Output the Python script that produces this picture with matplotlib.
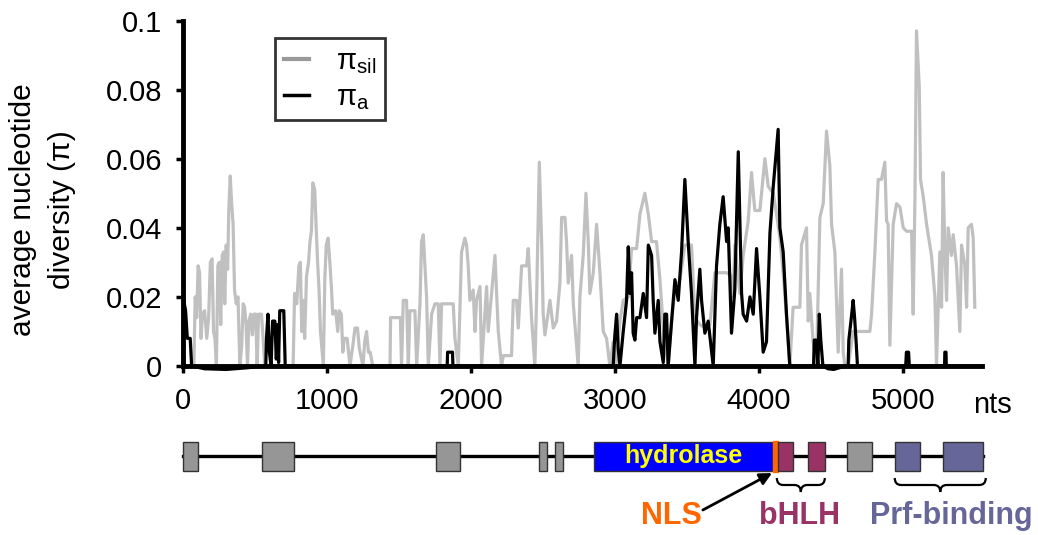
import matplotlib
matplotlib.use("Agg")
import matplotlib.pyplot as plt
from matplotlib.lines import Line2D
from matplotlib.patches import Rectangle, PathPatch
from matplotlib.path import Path

plt.rcParams["font.family"] = ["Liberation Sans", "DejaVu Sans"]
plt.rcParams["mathtext.fontset"] = "custom"
plt.rcParams["mathtext.rm"] = "Liberation Sans"

# sliding-window diversity, silent sites (position in nts, pi)
SIL_POS = [
    75, 85, 95, 105, 115, 125, 135, 150, 165, 178, 190, 202, 212, 222, 232,
    242, 252, 262, 272, 282, 290, 300, 310, 318, 328, 338, 348, 358, 370, 382,
    395, 408, 418, 428, 438, 448, 458, 470, 482, 492, 505, 515, 525, 545, 558,
    568, 765, 775, 790, 805, 815, 825, 835, 845, 858, 872, 882, 892, 902, 915,
    925, 935, 945, 955, 975, 985, 995, 1008, 1020, 1032, 1040, 1060, 1075, 1085,
    1100, 1110, 1120, 1140, 1160, 1180, 1195, 1212, 1225, 1250, 1262, 1275, 1288,
    1300, 1318, 1438, 1442, 1510, 1518, 1530, 1553, 1565, 1576, 1611, 1623, 1646,
    1657, 1669, 1692, 1704, 1727, 1750, 1773, 1785, 1796, 1877, 1889, 1912, 1935,
    1958, 1970, 1981, 1993, 2016, 2028, 2039, 2063, 2074, 2109, 2120, 2167, 2190,
    2213, 2225, 2282, 2294, 2317, 2329, 2352, 2387, 2398, 2421, 2444, 2456, 2475,
    2491, 2502, 2514, 2549, 2572, 2595, 2618, 2630, 2653, 2664, 2676, 2699, 2711,
    2745, 2757, 2780, 2799, 2815, 2826, 2850, 2873, 2896, 2919, 2942, 2965, 2988,
    3007, 3035, 3058, 3093, 3116, 3151, 3174, 3208, 3232, 3255, 3289, 3313, 3336,
    3359, 3370, 3394, 3417, 3452, 3486, 3532, 3556, 3590, 3625, 3660, 3695, 3776,
    3810, 3822, 3833, 3868, 3891, 3926, 3949, 3972, 4007, 4042, 4065, 4100, 4123,
    4146, 4169, 4192, 4215, 4238, 4285, 4296, 4331, 4343, 4354, 4377, 4400, 4424,
    4447, 4470, 4493, 4505, 4528, 4551, 4574, 4586, 4598, 4621, 4655, 4771, 4783,
    4806, 4829, 4852, 4875, 4887, 4898, 4910, 4933, 4956, 4980, 5003, 5026, 5061,
    5072, 5084, 5095, 5114, 5123, 5142, 5165, 5199, 5223, 5234, 5257, 5269, 5280,
    5292, 5304, 5315, 5338, 5350, 5373, 5396, 5408, 5431, 5443, 5454, 5477, 5489,
    5500,
]
SIL_PI = [
    0.0, 0.020, 0.014, 0.029, 0.027, 0.008, 0.015, 0.016, 0.008, 0.014, 0.030,
    0.031, 0.010, 0.008, 0.0, 0.029, 0.030, 0.012, 0.032, 0.033, 0.018, 0.035,
    0.028, 0.045, 0.055, 0.047, 0.041, 0.022, 0.018, 0.020, 0.0, 0.006, 0.018,
    0.017, 0.012, 0.0, 0.013, 0.015, 0.009, 0.015, 0.015, 0.0, 0.015, 0.015,
    0.007, 0.0, 0.0, 0.021, 0.018, 0.029, 0.030, 0.010, 0.019, 0.008, 0.026,
    0.030, 0.036, 0.039, 0.053, 0.051, 0.040, 0.030, 0.022, 0.010, 0.0, 0.025,
    0.035, 0.037, 0.030, 0.022, 0.015, 0.016, 0.010, 0.016, 0.015, 0.004, 0.008,
    0.008, 0.0, 0.006, 0.011, 0.011, 0.005, 0.0, 0.007, 0.010, 0.004, 0.004,
    0.0, 0.0, 0.014, 0.014, 0.0, 0.019, 0.019, 0.0, 0.016, 0.016, 0.0, 0.018,
    0.036, 0.038, 0.020, 0.0, 0.015, 0.018, 0.018, 0.0, 0.018, 0.018, 0.008,
    0.0, 0.033, 0.037, 0.035, 0.029, 0.019, 0.022, 0.010, 0.019, 0.023, 0.0,
    0.023, 0.010, 0.032, 0.010, 0.0, 0.003, 0.003, 0.019, 0.019, 0.011, 0.029,
    0.029, 0.034, 0.014, 0.0, 0.019, 0.059, 0.036, 0.015, 0.009, 0.019, 0.011,
    0.013, 0.024, 0.043, 0.043, 0.036, 0.024, 0.032, 0.018, 0.0, 0.020, 0.032,
    0.050, 0.036, 0.021, 0.027, 0.041, 0.027, 0.010, 0.008, 0.0, 0.007, 0.0,
    0.013, 0.019, 0.020, 0.034, 0.034, 0.044, 0.050, 0.044, 0.036, 0.036, 0.025,
    0.011, 0.003, 0.0, 0.013, 0.022, 0.025, 0.035, 0.035, 0.014, 0.012, 0.011,
    0.012, 0.027, 0.027, 0.026, 0.020, 0.035, 0.021, 0.032, 0.042, 0.056, 0.045,
    0.045, 0.060, 0.052, 0.050, 0.044, 0.037, 0.027, 0.014, 0.0, 0.017, 0.017,
    0.035, 0.040, 0.013, 0.021, 0.007, 0.0, 0.043, 0.047, 0.068, 0.058, 0.041,
    0.033, 0.004, 0.028, 0.004, 0.0, 0.0, 0.010, 0.010, 0.015, 0.033, 0.054,
    0.054, 0.059, 0.042, 0.041, 0.006, 0.041, 0.047, 0.046, 0.040, 0.039, 0.039,
    0.015, 0.048, 0.097, 0.081, 0.054, 0.049, 0.041, 0.032, 0.020, 0.0, 0.033,
    0.017, 0.056, 0.033, 0.019, 0.040, 0.032, 0.038, 0.029, 0.010, 0.035, 0.029,
    0.017, 0.040, 0.041, 0.037, 0.017,
]

# sliding-window diversity, replacement sites
REP_POS = [
    0, 5, 18, 30, 50, 60, 150, 300, 450, 560, 575, 580, 590, 600, 612, 622, 638,
    648, 658, 664, 672, 700, 710, 1835, 1838, 1872, 1875, 2988, 2999, 3012,
    3023, 3035, 3058, 3081, 3093, 3104, 3116, 3127, 3139, 3151, 3174, 3197,
    3220, 3232, 3255, 3266, 3278, 3301, 3313, 3336, 3347, 3359, 3370, 3394,
    3417, 3440, 3463, 3486, 3509, 3532, 3556, 3567, 3590, 3602, 3625, 3648,
    3683, 3706, 3729, 3752, 3776, 3787, 3810, 3833, 3857, 3880, 3891, 3915,
    3938, 3961, 3984, 4007, 4030, 4053, 4077, 4100, 4134, 4146, 4169, 4192,
    4215, 4380, 4385, 4400, 4410, 4420, 4430, 4445, 4480, 4520, 4560, 4620,
    4625, 4645, 4655, 4665, 4675, 4685, 5020, 5025, 5040, 5045, 5290, 5292,
    5300, 5302, 5545,
]
REP_PI = [
    0.0, 0.019, 0.016, 0.008, 0.008, 0.0, -0.0008, -0.001, -0.0005, 0.0, 0.0,
    0.008, 0.015, 0.004, 0.0, 0.013, 0.013, 0.002, 0.012, 0.001, 0.016, 0.016,
    0.0, 0.0, 0.004, 0.004, 0.0, 0.0, 0.0085, 0.015, 0.005, 0.0, 0.010, 0.019,
    0.0345, 0.021, 0.027, 0.0095, 0.0075, 0.014, 0.014, 0.021, 0.014, 0.035,
    0.032, 0.019, 0.0095, 0.019, 0.007, 0.001, 0.015, 0.015, 0.0, 0.013, 0.025,
    0.019, 0.033, 0.054, 0.036, 0.021, 0.0, 0.014, 0.028, 0.019, 0.0095, 0.013,
    0.0, 0.029, 0.041, 0.049, 0.036, 0.040, 0.0095, 0.022, 0.062, 0.021, 0.015,
    0.013, 0.020, 0.015, 0.034, 0.020, 0.004, 0.007, 0.0385, 0.052, 0.0685,
    0.040, 0.033, 0.015, 0.0, 0.0, 0.0075, 0.0075, 0.0, 0.015, 0.0075, 0.0,
    -0.0008, -0.001, -0.0005, 0.0, 0.0075, 0.015, 0.019, 0.014, 0.0075, 0.0,
    0.0, 0.004, 0.004, 0.0, 0.0, 0.004, 0.004, 0.0, 0.0,
]

X_TICKS = [0, 1000, 2000, 3000, 4000, 5000]
Y_TICKS = [0, 0.02, 0.04, 0.06, 0.08, 0.1]
Y_TICK_LABELS = ["0", "0.02", "0.04", "0.06", "0.08", "0.1"]

# gene model: exon start / end (nts) and domain class
EXON_START = [0, 549, 1757, 2472, 2583, 2854, 4097, 4132, 4340, 4611, 4944, 5278]
EXON_END = [104, 771, 1924, 2528, 2639, 4097, 4132, 4236, 4458, 4785, 5118, 5556]
EXON_KIND = ["exon", "exon", "exon", "exon", "exon", "hydrolase", "nls",
             "bhlh", "bhlh", "exon", "prf", "prf"]
GENE_END = 5556

BHLH_SPAN = (4125, 4458)
PRF_SPAN = (4944, 5576)

KIND_COLOR = {
    "exon": "#969696",
    "hydrolase": "#0000ff",
    "nls": "#ff6600",
    "bhlh": "#993366",
    "prf": "#666699",
}

W, H = 1038, 535
fig = plt.figure(figsize=(W / 100, H / 100), dpi=100)

# diversity panel
ax = fig.add_axes([183 / W, 169 / H, 799 / W, 345.5 / H])
ax.plot(SIL_POS, SIL_PI, color="#c0c0c0", lw=2.3, clip_on=False, zorder=2)
ax.plot(REP_POS, REP_PI, color="black", lw=2.3, clip_on=False, zorder=3)
ax.set_xlim(0, 5550)
ax.set_ylim(0, 0.1)
ax.set_xticks(X_TICKS)
ax.set_xticklabels([str(t) for t in X_TICKS])
ax.set_yticks(Y_TICKS)
ax.set_yticklabels(Y_TICK_LABELS)
ax.tick_params(direction="out", length=5, width=2.5, pad=10, labelsize=21)
for side in ("top", "right"):
    ax.spines[side].set_visible(False)
for side in ("left", "bottom"):
    ax.spines[side].set_linewidth(3.5)
    ax.spines[side].set_zorder(4)

ax.text(5620, -0.113, "nts", transform=ax.get_xaxis_transform(),
        ha="center", va="center", fontsize=21)

fig.text(43 / W, 1 - 210 / H, "average nucleotide\ndiversity (π)",
         rotation=90, ha="center", va="center", multialignment="center",
         fontsize=21.5, linespacing=1.5)

handles = [
    Line2D([], [], color="#999999", lw=3),
    Line2D([], [], color="black", lw=2.5),
]
leg = ax.legend(handles, ["π$_{\\mathrm{sil}}$", "π$_{\\mathrm{a}}$"],
                loc="upper left", bbox_to_anchor=(275 / W, 1 - 38 / H),
                bbox_transform=fig.transFigure, fontsize=21, frameon=True,
                fancybox=False, borderaxespad=0, handlelength=0.85,
                handletextpad=0.95, borderpad=0.3, labelspacing=0.25)
leg.get_frame().set_edgecolor("black")
leg.get_frame().set_linewidth(2)

# gene model panel (y in pixel units from the bottom of the figure)
gx = fig.add_axes([183 / W, 0, 799 / W, 115 / H])
gx.set_xlim(0, 5550)
gx.set_ylim(0, 115)
gx.axis("off")

box_lo, box_hi, line_y = 64, 93.5, 79
gx.plot([0, GENE_END], [line_y, line_y], color="black", lw=2.4, zorder=1,
        clip_on=False)
for start, end, kind in zip(EXON_START, EXON_END, EXON_KIND):
    lo, hi = box_lo, box_hi
    edge = "#333333"
    if kind == "nls":
        lo, hi, edge = box_lo - 1, box_hi + 1, KIND_COLOR[kind]
    gx.add_patch(Rectangle((start, lo), end - start, hi - lo,
                           facecolor=KIND_COLOR[kind], edgecolor=edge,
                           lw=1, zorder=3, clip_on=False))

hyd = EXON_KIND.index("hydrolase")
gx.text((EXON_START[hyd] + EXON_END[hyd]) / 2, line_y, "hydrolase",
        color="#ffff00", fontsize=18, fontweight="bold",
        ha="center", va="center", zorder=4)


def draw_brace(axis, x0, x1, y_top, y_mid, y_tip, r=45):
    xm = (x0 + x1) / 2
    verts = [
        (x0, y_top), (x0, y_mid), (x0 + r, y_mid),
        (xm - r, y_mid),
        (xm, y_mid), (xm, y_tip),
        (xm, y_mid), (xm + r, y_mid),
        (x1 - r, y_mid),
        (x1, y_mid), (x1, y_top),
    ]
    codes = [Path.MOVETO, Path.CURVE3, Path.CURVE3, Path.LINETO,
             Path.CURVE3, Path.CURVE3, Path.CURVE3, Path.CURVE3,
             Path.LINETO, Path.CURVE3, Path.CURVE3]
    axis.add_patch(PathPatch(Path(verts, codes), facecolor="none",
                             edgecolor="black", lw=1.6, clip_on=False))


draw_brace(gx, *BHLH_SPAN, 57, 50, 43)
draw_brace(gx, *PRF_SPAN, 57, 50, 43)

nls = EXON_KIND.index("nls")
gx.annotate("", xy=(EXON_START[nls] - 5, box_lo - 2), xytext=(3611, 25),
            arrowprops=dict(arrowstyle="-|>", color="black", lw=2,
                            mutation_scale=18, shrinkA=0, shrinkB=0),
            annotation_clip=False)

label_y = 19
gx.text(3396, label_y, "NLS", color=KIND_COLOR["nls"], fontsize=22,
        fontweight="bold", ha="center", va="center")
gx.text(sum(BHLH_SPAN) / 2 - 10, label_y, "bHLH", color=KIND_COLOR["bhlh"],
        fontsize=22, fontweight="bold", ha="center", va="center")
gx.text(5340, label_y, "Prf-binding", color=KIND_COLOR["prf"], fontsize=22,
        fontweight="bold", ha="center", va="center", clip_on=False)

fig.savefig("out.png", dpi=100)
